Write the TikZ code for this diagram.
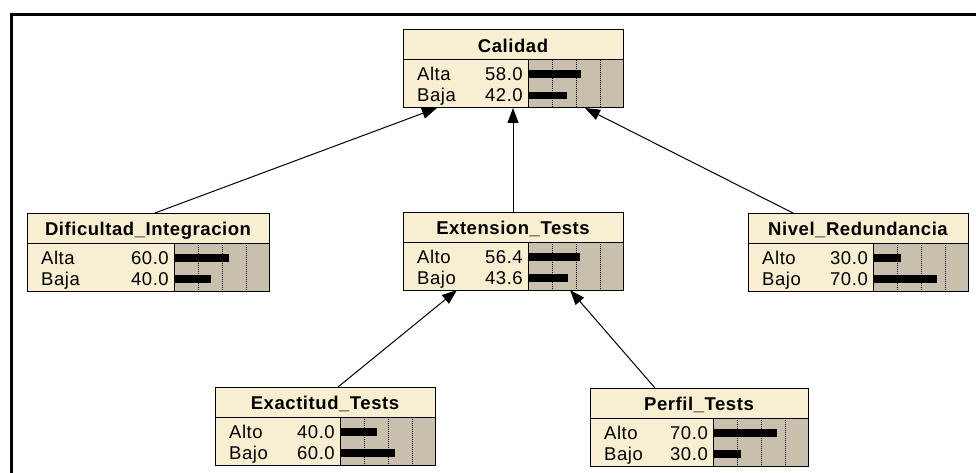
\documentclass[tikz,border=0pt]{standalone}
\usepackage{fontspec}
\usetikzlibrary{arrows.meta,calc}
\newfontfamily\bnfont[LetterSpace=3]{Liberation Sans}
\definecolor{nodefill}{RGB}{248,239,210}
\definecolor{barfill}{RGB}{200,192,172}

% belief-bar node: #1 name, #2 left, #3 top, #4 label width,
% #5 title, #6 first state, #7 its value, #8 second state, #9 its value
\newcommand{\beliefnode}[9]{%
  \pgfmathsetmacro{\bL}{#2}%
  \pgfmathsetmacro{\bB}{#2+#4}%
  \pgfmathsetmacro{\bR}{#2+#4+95}%
  \pgfmathsetmacro{\bT}{#3}%
  \pgfmathsetmacro{\bS}{#3+30}%
  \pgfmathsetmacro{\bE}{#3+78}%
  \pgfmathsetmacro{\bW}{#4+95}%
  \fill[nodefill] (\bL,\bT) rectangle (\bR,\bE);
  \fill[barfill] (\bB,\bS) rectangle (\bR,\bE);
  \foreach \g in {24,48,72}{\draw[gridline] (\bB+\g,\bS) -- (\bB+\g,\bE);}
  \fill (\bB,\bS+10.5) rectangle ++(0.92*#7,8);
  \fill (\bB,\bS+32) rectangle ++(0.92*#9,7.5);
  \draw[thin line] (\bB,\bS) -- (\bB,\bE);
  \draw[thin line] (\bL,\bS) -- (\bR,\bS);
  \node[bnbox, minimum width=\bW pt, anchor=north west] (#1) at (\bL,\bT) {};
  \node[titletext] (#1-title) at ({(\bL+\bR)/2},\bT+22.5) {#5};
  \node[statetext, anchor=base west] (#1-s1) at (\bL+14,\bS+21) {#6};
  \node[statetext, anchor=base east] (#1-v1) at (\bB-5,\bS+21) {#7};
  \node[statetext, anchor=base west] (#1-s2) at (\bL+14,\bS+42) {#8};
  \node[statetext, anchor=base east] (#1-v2) at (\bB-5,\bS+42) {#9};
}

\begin{document}
\begin{tikzpicture}[x=1pt,y=-1pt,
  thin line/.style={line width=1pt},
  gridline/.style={line width=1pt, dash pattern=on 1pt off 1pt},
  bnbox/.style={draw, line width=1pt, inner sep=0pt, outer sep=0pt,
    minimum height=78pt},
  titletext/.style={font=\bnfont\fontsize{18.5}{20}\selectfont\bfseries,
    inner sep=0pt, anchor=base},
  statetext/.style={font=\bnfont\fontsize{18.5}{20}\selectfont, inner sep=0pt},
  link/.style={line width=1pt, -{Triangle[length=15pt,width=11pt]}},
  frame/.style={line width=3pt}]
\useasboundingbox (0,0) rectangle (976,473);

% frame along the top and left edges
\coordinate (ftl) at (11.5,14.5);
\coordinate (ftr) at (976,14.5);
\coordinate (fbl) at (11.5,473);
\draw[frame] (ftr) -- (ftl) -- (fbl);

\beliefnode{cal}{403}{30}{125}{Calidad}{Alta}{58.0}{Baja}{42.0}
\beliefnode{dif}{27}{213}{147}{Dificultad\_Integracion}{Alta}{60.0}{Baja}{40.0}
\beliefnode{ext}{403}{212}{125}{Extension\_Tests}{Alto}{56.4}{Bajo}{43.6}
\beliefnode{niv}{748}{213}{125}{Nivel\_Redundancia}{Alto}{30.0}{Bajo}{70.0}
\beliefnode{exa}{215}{387}{125}{Exactitud\_Tests}{Alto}{40.0}{Bajo}{60.0}
\beliefnode{per}{590}{388}{123}{Perfil\_Tests}{Alto}{70.0}{Bajo}{30.0}

% dependencies
\draw[link] ($(dif.north west)+(128,0)$) -- ($(cal.south west)+(34,0)$);
\draw[link] (ext.north) -- (cal.south);
\draw[link] ($(niv.north west)+(45,0)$) -- ($(cal.south west)+(182,0)$);
\draw[link] ($(exa.north west)+(123,0)$) -- ($(ext.south west)+(54,0)$);
\draw[link] ($(per.north west)+(65,0)$) -- ($(ext.south west)+(167,0)$);
\end{tikzpicture}
\end{document}
